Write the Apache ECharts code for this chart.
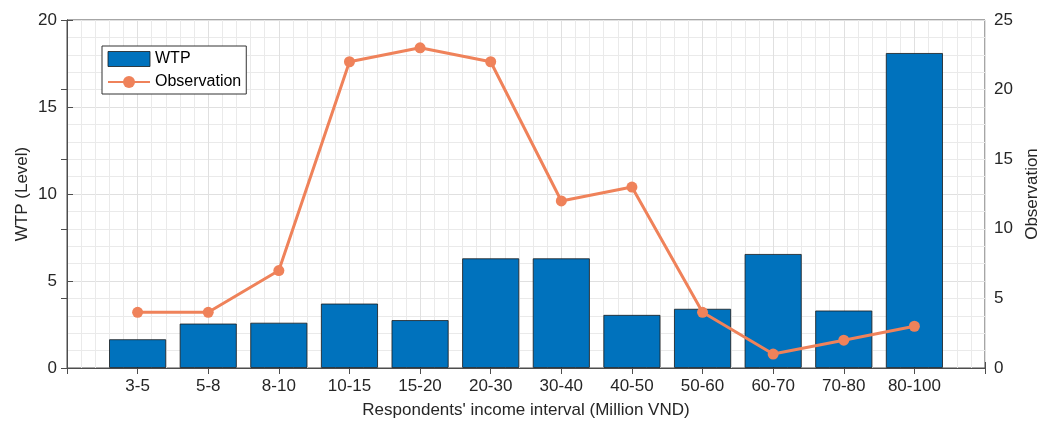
<!DOCTYPE html>
<html>
<head>
<meta charset="utf-8">
<script src="https://cdn.jsdelivr.net/npm/echarts@6/dist/echarts.min.js"></script>
<style>
html,body{margin:0;padding:0;background:#fff;}
#chart{width:1040px;height:423px;}
</style>
</head>
<body>
<div id="chart"></div>
<script>
const categories = ['3-5','5-8','8-10','10-15','15-20','20-30','30-40','40-50','50-60','60-70','70-80','80-100'];
const wtpLevels = [1.65, 2.55, 2.6, 3.7, 2.75, 6.3, 6.3, 3.05, 3.4, 6.55, 3.3, 18.1];
const observations = [4, 4, 7, 22, 23, 22, 12, 13, 4, 1, 2, 3];
const leftTicks = [0, 5, 10, 15, 20];
const rightTicks = [0, 5, 10, 15, 20, 25];

const FONT = 'Liberation Sans, Arial, sans-serif';
const AXIS_COLOR = '#4d4d4d';

const chart = echarts.init(document.getElementById('chart'), null, {renderer: 'canvas'});
const catLabel = v => (v >= 1 && v <= categories.length && Number.isInteger(v)) ? categories[v - 1] : '';

const option = {
  animation: false,
  backgroundColor: '#fff',
  grid: {left: 67, right: 55, top: 20, bottom: 55, show: true, borderColor: AXIS_COLOR, borderWidth: 1, backgroundColor: '#fff', outerBoundsMode: 'none', containLabel: false},
  legend: {
    orient: 'vertical', left: 102, top: 46, padding: [5, 5, 4, 5], itemGap: 7,
    itemWidth: 42, itemHeight: 15,
    borderColor: '#333', borderWidth: 1, backgroundColor: '#fff',
    textStyle: {fontFamily: FONT, fontSize: 16, color: '#000'},
    data: [{name: 'WTP', icon: 'rect', itemStyle: {borderWidth: 0.8, borderColor: '#1a1a1a'}}, {name: 'Observation'}]
  },
  xAxis: [{
    type: 'value', min: 0, max: categories.length + 1, interval: 1,
    name: "Respondents' income interval (Million VND)", nameLocation: 'middle', nameGap: 34,
    nameTextStyle: {fontFamily: FONT, fontSize: 17, color: '#262626'},
    axisLine: {show: true, lineStyle: {color: AXIS_COLOR}},
    axisTick: {show: true, inside: true, length: 6, lineStyle: {color: AXIS_COLOR}},
    axisLabel: {formatter: catLabel, fontFamily: FONT, fontSize: 17, color: '#262626', margin: 10, showMinLabel: true, showMaxLabel: true},
    splitLine: {show: true, lineStyle: {color: '#e0e0e0', width: 1}},
    minorTick: {show: false, splitNumber: 5},
    minorSplitLine: {show: true, lineStyle: {color: '#eaeaea', width: 1}}
  }, {
    type: 'value', position: 'top', min: 0, max: categories.length + 1, interval: 1,
    axisLine: {show: true, lineStyle: {color: AXIS_COLOR}},
    axisTick: {show: true, inside: true, length: 6, lineStyle: {color: AXIS_COLOR}},
    axisLabel: {show: false},
    splitLine: {show: false}
  }],
  yAxis: [{
    type: 'value', min: leftTicks[0], max: leftTicks[leftTicks.length - 1], interval: 5,
    name: 'WTP (Level)', nameLocation: 'middle', nameGap: 36, nameMoveOverlap: false,
    nameTextStyle: {fontFamily: FONT, fontSize: 17, color: '#262626'},
    axisLine: {show: true, lineStyle: {color: AXIS_COLOR}},
    axisTick: {show: true, inside: true, length: 6, lineStyle: {color: AXIS_COLOR}},
    axisLabel: {fontFamily: FONT, fontSize: 17, color: '#262626', margin: 10},
    splitLine: {show: true, lineStyle: {color: '#e0e0e0', width: 1}},
    minorTick: {show: false, splitNumber: 5},
    minorSplitLine: {show: true, lineStyle: {color: '#eaeaea', width: 1}}
  }, {
    type: 'value', position: 'right', min: rightTicks[0], max: rightTicks[rightTicks.length - 1], interval: 5,
    name: 'Observation', nameLocation: 'middle', nameGap: 37, nameRotate: 90,
    nameTextStyle: {fontFamily: FONT, fontSize: 17, color: '#262626'},
    axisLine: {show: true, lineStyle: {color: AXIS_COLOR}},
    axisTick: {show: true, inside: true, length: 6, lineStyle: {color: AXIS_COLOR}},
    axisLabel: {fontFamily: FONT, fontSize: 17, color: '#262626', margin: 9},
    splitLine: {show: false}
  }],
  series: [{
    name: 'WTP', type: 'bar', xAxisIndex: 0, yAxisIndex: 0,
    barWidth: 57,
    itemStyle: {color: '#0072BD', borderColor: '#1a1a1a', borderWidth: 0.8},
    data: wtpLevels.map((v, i) => [i + 1, v])
  }, {
    name: 'Observation', type: 'line', xAxisIndex: 0, yAxisIndex: 1,
    symbol: 'circle', symbolSize: 11,
    lineStyle: {color: '#EF825A', width: 3},
    itemStyle: {color: '#EF825A'},
    data: observations.map((v, i) => [i + 1, v]),
    z: 5
  }]
};
chart.setOption(option);
</script>
</body>
</html>
